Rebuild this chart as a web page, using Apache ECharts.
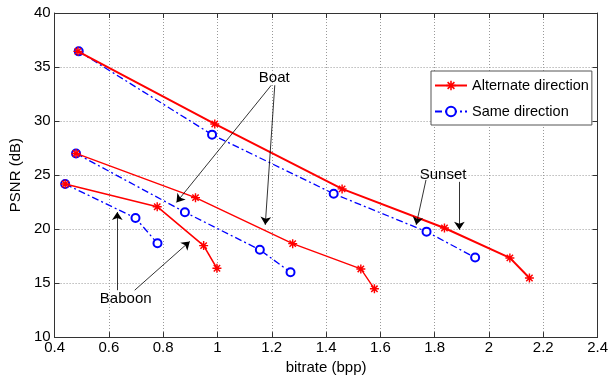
<!DOCTYPE html>
<html><head><meta charset="utf-8">
<script src="https://cdn.jsdelivr.net/npm/echarts@6/dist/echarts.min.js"></script>
<style>html,body{margin:0;padding:0;background:#fff}#c{width:611px;height:380px}</style>
</head><body><div id="c"></div>
<script>
// ---- data ----
const xTicks = [0.4, 0.6, 0.8, 1, 1.2, 1.4, 1.6, 1.8, 2, 2.2, 2.4];
const yTicks = [10, 15, 20, 25, 30, 35, 40];

const sunsetAltX = [0.486, 0.99, 1.459, 1.836, 2.077, 2.149];
const sunsetAltY = [36.45, 29.73, 23.72, 20.1, 17.33, 15.47];
const sunsetSameX = [0.489, 0.98, 1.428, 1.77, 1.949];
const sunsetSameY = [36.45, 28.74, 23.27, 19.76, 17.36];

const boatAltX = [0.479, 0.919, 1.277, 1.528, 1.578];
const boatAltY = [27.0, 22.91, 18.65, 16.31, 14.47];
const boatSameX = [0.479, 0.88, 1.156, 1.269];
const boatSameY = [27.0, 21.56, 18.08, 16.0];

const baboonAltX = [0.439, 0.778, 0.949, 0.998];
const baboonAltY = [24.17, 22.07, 18.47, 16.37];
const baboonSameX = [0.439, 0.698, 0.779];
const baboonSameY = [24.17, 21.02, 18.68];

const labelNames = ['Boat', 'Sunset', 'Baboon'];
const labelX = [1.209, 1.831, 0.662];
const labelY = [34.04, 25.0, 13.52];

const arrowFromX = [1.198, 1.211, 1.768, 1.891, 0.631, 0.695];
const arrowFromY = [33.31, 33.31, 24.55, 24.37, 14.34, 14.34];
const arrowToX = [0.849, 1.176, 1.732, 1.891, 0.631, 0.898];
const arrowToY = [22.47, 20.39, 20.39, 19.94, 21.57, 18.86];

const ALT = 'Alternate direction', SAME = 'Same direction';
// ---- build ----
const zip = (xs, ys) => xs.map((x, i) => [x, ys[i]]);
const star = 'path://M-0.8,-5L0.8,-5L0.8,5L-0.8,5Z M-5,-0.8L5,-0.8L5,0.8L-5,0.8Z M-4.11,-2.97L-2.97,-4.11L4.11,2.97L2.97,4.11Z M-2.97,4.11L-4.11,2.97L2.97,-4.11L4.11,-2.97Z';
const FONT = 'Liberation Sans, Arial, sans-serif';

function sameSeries(xs, ys) {
  return {
    type: 'line', name: SAME, data: zip(xs, ys), xAxisIndex: 0, yAxisIndex: 0,
    symbol: 'emptyCircle', symbolSize: 8, showAllSymbol: true,
    lineStyle: { color: '#0000ff', width: 1.3, type: [7, 3, 2, 3] },
    itemStyle: { color: '#0000ff', borderColor: '#0000ff', borderWidth: 1.2 },
    animation: false, z: 2
  };
}
function altSeries(xs, ys, w) {
  return {
    type: 'line', name: ALT, data: zip(xs, ys), xAxisIndex: 0, yAxisIndex: 0,
    symbol: star, symbolSize: 9, showAllSymbol: true,
    lineStyle: { color: '#ff0000', width: w, type: 'solid' },
    itemStyle: { color: '#ff0000' },
    animation: false, z: 3
  };
}

const arrowData = arrowFromX.map((x, i) => [
  { coord: [x, arrowFromY[i]] },
  { coord: [arrowToX[i], arrowToY[i]] }
]);

const option = {
  backgroundColor: '#fff',
  animation: false,
  textStyle: { fontFamily: FONT },
  grid: { left: 47, right: 10, top: 13, bottom: 35, show: false },
  legend: {
    data: [
      { name: ALT },
      { name: SAME, itemStyle: { borderWidth: 1.2 } }
    ],
    orient: 'vertical', left: 431, top: 71,
    itemWidth: 32, itemHeight: 12, itemGap: 11,
    padding: [7, 3, 6, 3],
    borderColor: '#555', borderWidth: 1, backgroundColor: '#fff',
    textStyle: { fontSize: 14.5, color: '#000', fontFamily: FONT },
    selectedMode: false, z: 10
  },
  xAxis: [{
    type: 'value', min: xTicks[0], max: xTicks[xTicks.length - 1], interval: 0.2,
    name: 'bitrate (bpp)', nameLocation: 'middle', nameGap: 17,
    nameTextStyle: { fontSize: 15, color: '#000', fontFamily: FONT },
    axisLine: { show: true, lineStyle: { color: '#333', width: 1 } },
    axisTick: { show: true, inside: true, length: 5, lineStyle: { color: '#333' } },
    axisLabel: { fontSize: 15, color: '#000', margin: 3, fontFamily: FONT },
    splitLine: { show: true, lineStyle: { color: '#999', type: [1, 2], width: 1 } }
  }, {
    type: 'value', position: 'top', min: xTicks[0], max: xTicks[xTicks.length - 1], interval: 0.2,
    axisLine: { show: true, lineStyle: { color: '#333', width: 1 } },
    axisTick: { show: true, inside: true, length: 5, lineStyle: { color: '#333' } },
    axisLabel: { show: false }, splitLine: { show: false }
  }],
  yAxis: [{
    type: 'value', min: yTicks[0], max: yTicks[yTicks.length - 1], interval: 5,
    name: 'PSNR (dB)', nameLocation: 'middle', nameGap: 26,
    nameTextStyle: { fontSize: 15, color: '#000', fontFamily: FONT },
    axisLine: { show: true, lineStyle: { color: '#333', width: 1 } },
    axisTick: { show: true, inside: true, length: 5, lineStyle: { color: '#333' } },
    axisLabel: { fontSize: 15, color: '#000', margin: 4, fontFamily: FONT },
    splitLine: { show: true, lineStyle: { color: '#999', type: [1, 2], width: 1 } }
  }, {
    type: 'value', position: 'right', min: yTicks[0], max: yTicks[yTicks.length - 1], interval: 5,
    axisLine: { show: true, lineStyle: { color: '#333', width: 1 } },
    axisTick: { show: true, inside: true, length: 5, lineStyle: { color: '#333' } },
    axisLabel: { show: false }, splitLine: { show: false }
  }],
  series: [
    sameSeries(sunsetSameX, sunsetSameY),
    sameSeries(boatSameX, boatSameY),
    sameSeries(baboonSameX, baboonSameY),
    altSeries(sunsetAltX, sunsetAltY, 2),
    altSeries(boatAltX, boatAltY, 1.4),
    altSeries(baboonAltX, baboonAltY, 1.6),
    {
      type: 'scatter', name: 'labels', xAxisIndex: 0, yAxisIndex: 0,
      symbolSize: 2, itemStyle: { color: 'rgba(0,0,0,0)' }, silent: true,
      data: labelNames.map((n, i) => ({ name: n, value: [labelX[i], labelY[i]] })),
      label: {
        show: true, position: 'inside', formatter: '{b}', color: '#000',
        fontSize: 15, fontFamily: FONT, textBorderWidth: 0, opacity: 1
      },
      markLine: {
        silent: true, animation: false,
        symbol: ['none', 'arrow'], symbolSize: 8,
        lineStyle: { color: '#000', width: 0.8, type: 'solid' },
        label: { show: false },
        data: arrowData
      },
      z: 4
    }
  ]
};

const chart = echarts.init(document.getElementById('c'), null, { renderer: 'canvas' });
chart.setOption(option);
</script></body></html>
